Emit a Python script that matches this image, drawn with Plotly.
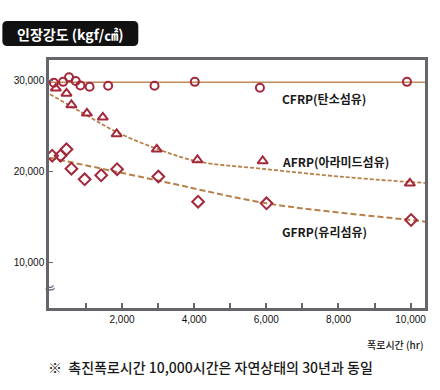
import plotly.graph_objects as go

# ---- data ----
cfrp_hr = [110, 366, 531, 715, 845, 1100, 1615, 2900, 4017, 5823, 9900]
cfrp_val = [29700, 29800, 30300, 29900, 29400, 29270, 29380, 29380, 29800, 29160, 29800]
cfrp_line_hr = [0, 10400]
cfrp_line_val = [29750, 29750]

afrp_hr = [165, 460, 597, 1026, 1467, 1852, 2963, 4090, 5900, 9980]
afrp_val = [29090, 28540, 27270, 26360, 25920, 24100, 22430, 21260, 21150, 18710]
afrp_fit_hr = [0, 1055, 1835, 2935, 4100, 5868, 8162, 10000, 10400]
afrp_fit_val = [28450, 26070, 24350, 22530, 21100, 20310, 19400, 18850, 18760]

gfrp_hr = [64, 293, 460, 597, 963, 1422, 1862, 3007, 4108, 6006, 10014]
gfrp_val = [21730, 21730, 22430, 20310, 19150, 19590, 20250, 19450, 16700, 16520, 14700]
gfrp_fit_hr = [0, 1835, 3576, 4127, 6006, 7795, 10000, 10400]
gfrp_fit_val = [21500, 19980, 18520, 18030, 16520, 15610, 14700, 14520]

x_tickvals = [1000 * i for i in range(1, 11)]
x_ticktext = ["", "2,000", "", "4,000", "", "6,000", "", "8,000", "", "10,000"]
y_tickvals = [10000, 20000, 30000]
y_ticktext = ["10,000", "20,000", "30,000"]

MARK = "#a3283c"
LINE = "#c08a5a"
DASH = "#b88048"
AX = "#65656d"

fig = go.Figure()

fig.add_trace(go.Scatter(x=cfrp_line_hr, y=cfrp_line_val, mode="lines",
                         line=dict(color=LINE, width=1.6), hoverinfo="skip"))
fig.add_trace(go.Scatter(x=afrp_fit_hr, y=afrp_fit_val, mode="lines",
                         line=dict(color=DASH, width=1.8, dash="4px,2px", shape="spline"),
                         hoverinfo="skip"))
fig.add_trace(go.Scatter(x=gfrp_fit_hr, y=gfrp_fit_val, mode="lines",
                         line=dict(color=DASH, width=2, dash="6px,3px", shape="spline"),
                         hoverinfo="skip"))

fig.add_trace(go.Scatter(x=cfrp_hr, y=cfrp_val, mode="markers",
                         marker=dict(symbol="circle-open", size=8, color=MARK,
                                     line=dict(width=2, color=MARK))))
fig.add_trace(go.Scatter(x=afrp_hr, y=afrp_val, mode="markers",
                         marker=dict(symbol="triangle-up-open", size=9, color=MARK,
                                     line=dict(width=2, color=MARK))))
fig.add_trace(go.Scatter(x=gfrp_hr, y=gfrp_val, mode="markers",
                         marker=dict(symbol="diamond-open", size=9, color=MARK,
                                     line=dict(width=2, color=MARK))))

tickfont = dict(family="Liberation Sans", size=10, color="#111")
fig.update_xaxes(range=[-25, 10400], tickvals=x_tickvals, ticktext=x_ticktext,
                 ticks="inside", ticklen=5, tickcolor=AX, tickwidth=1.5,
                 showgrid=False, zeroline=False, showline=True, linecolor=AX, linewidth=2.5,
                 mirror=True, tickfont=tickfont, fixedrange=True)
fig.update_yaxes(range=[5080, 32190], tickvals=y_tickvals, ticktext=y_ticktext,
                 ticks="inside", ticklen=4, tickcolor=AX, tickwidth=1.2,
                 showgrid=False, zeroline=False, showline=True, linecolor=AX, linewidth=2.5,
                 mirror=True, tickfont=tickfont, fixedrange=True)

# title badge (rounded black box)
x0, x1 = (2 - 49) / 379, (139 - 49) / 379
y0, y1 = (308 - 46) / 248, (308 - 21) / 248
rx, ry = 5 / 379, 5 / 248
path = (f"M {x0+rx},{y0} L {x1-rx},{y0} Q {x1},{y0} {x1},{y0+ry} L {x1},{y1-ry} "
        f"Q {x1},{y1} {x1-rx},{y1} L {x0+rx},{y1} Q {x0},{y1} {x0},{y1-ry} "
        f"L {x0},{y0+ry} Q {x0},{y0} {x0+rx},{y0} Z")
fig.add_shape(type="path", path=path, xref="paper", yref="paper",
              fillcolor="#111", line=dict(width=0))

def px_x(px):
    return (px - 49) / 379

def px_y(py):
    return (308 - py) / 248

annos = [
    dict(text="인장강도 (kgf/㎠)", x=px_x(70.5), y=px_y(34), size=14, color="white", w=600),
    dict(text="CFRP(탄소섬유)", x=px_x(326), y=px_y(98), size=12, color="#1a1a1a", w=600),
    dict(text="AFRP(아라미드섬유)", x=px_x(338), y=px_y(161), size=12, color="#1a1a1a", w=600),
    dict(text="GFRP(유리섬유)", x=px_x(327), y=px_y(231), size=12, color="#1a1a1a", w=600),
    dict(text="※  촉진폭로시간 10,000시간은 자연상태의 30년과 동일", x=px_x(212), y=px_y(367),
         size=14, color="#1a1a1a", w=500),
]
for a in annos:
    fig.add_annotation(text=a["text"], x=a["x"], y=a["y"], xref="paper", yref="paper",
                       showarrow=False, xanchor="center", yanchor="middle",
                       font=dict(family="Noto Sans CJK KR", size=a["size"], color=a["color"],
                                 weight=a["w"]))

fig.add_annotation(text="폭로시간 (hr)", x=px_x(428), y=px_y(344), xref="paper", yref="paper",
                   showarrow=False, xanchor="right", yanchor="middle",
                   font=dict(family="Noto Sans CJK KR", size=10, color="#1a1a1a", weight=500))
# axis break mark
fig.add_annotation(text="≈", x=px_x(50), y=px_y(288), xref="paper", yref="paper",
                   showarrow=False, xanchor="center", yanchor="middle", textangle=-20,
                   font=dict(family="DejaVu Sans", size=14, color=AX))

fig.update_layout(width=440, height=390, margin=dict(l=49, r=12, t=60, b=82),
                  paper_bgcolor="white", plot_bgcolor="white", showlegend=False)

fig.write_html("out.html", config={"displayModeBar": False},
               post_script="document.body.style.margin='0';document.body.style.padding='0';")
